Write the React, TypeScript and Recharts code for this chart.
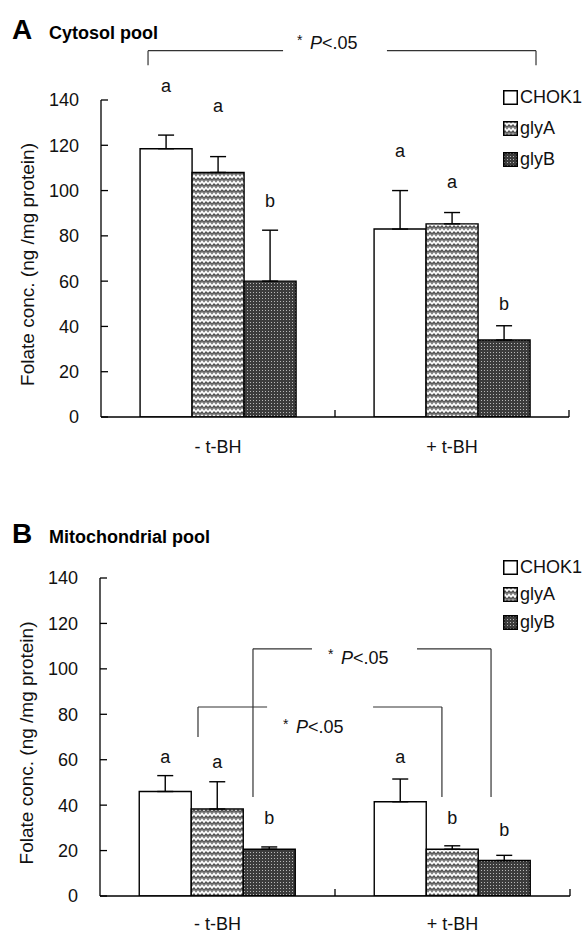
import React from 'react';
import { BarChart, LineChart, Bar, XAxis, YAxis, ErrorBar, LabelList, ReferenceLine, ReferenceDot } from 'recharts';

const FONT = '"Liberation Sans", Arial, Helvetica, sans-serif';

// categories and series
const groups = ['- t-BH', '+ t-BH'];
const seriesNames = ['CHOK1', 'glyA', 'glyB'];
const yTicks = [0, 20, 40, 60, 80, 100, 120, 140];

// A: cytosol pool
const cytoCHOK1 = [118.5, 83];
const cytoGlyA = [108, 85.3];
const cytoGlyB = [60, 34];
const cytoCHOK1Err = [6, 17];
const cytoGlyAErr = [7, 5];
const cytoGlyBErr = [22.5, 6.3];
const cytoCHOK1Letters = ['a', 'a'];
const cytoGlyALetters = ['a', 'a'];
const cytoGlyBLetters = ['b', 'b'];
const cytoCHOK1LetterAt = [146.6, 117.9];
const cytoGlyALetterAt = [137.7, 103.8];
const cytoGlyBLetterAt = [95.8, 50.3];

// B: mitochondrial pool
const mitoCHOK1 = [46, 41.5];
const mitoGlyA = [38.3, 20.6];
const mitoGlyB = [20.6, 15.6];
const mitoCHOK1Err = [7, 10];
const mitoGlyAErr = [12, 1.5];
const mitoGlyBErr = [1, 2.3];
const mitoCHOK1Letters = ['a', 'a'];
const mitoGlyALetters = ['a', 'b'];
const mitoGlyBLetters = ['b', 'b'];
const mitoCHOK1LetterAt = [61.2, 61.2];
const mitoGlyALetterAt = [59, 34.4];
const mitoGlyBLetterAt = [34.4, 29.1];

const fills = ['#ffffff', 'url(#patGlyA)', 'url(#patGlyB)'];

function buildData(vals: number[][], errs: number[][], letters: string[][]) {
  return groups.map((g, i) => {
    const row: any = { group: g };
    seriesNames.forEach((s, k) => {
      row[s] = vals[k][i];
      row[s + 'Err'] = [0, errs[k][i]];
      row[s + 'Letter'] = letters[k][i];
    });
    return row;
  });
}

const cytoData = buildData(
  [cytoCHOK1, cytoGlyA, cytoGlyB],
  [cytoCHOK1Err, cytoGlyAErr, cytoGlyBErr],
  [cytoCHOK1Letters, cytoGlyALetters, cytoGlyBLetters]
);
const mitoData = buildData(
  [mitoCHOK1, mitoGlyA, mitoGlyB],
  [mitoCHOK1Err, mitoGlyAErr, mitoGlyBErr],
  [mitoCHOK1Letters, mitoGlyALetters, mitoGlyBLetters]
);

const makeLetter = (levels: number[], values: number[]) => (props: any) => {
  const vb = props.viewBox && props.viewBox.width != null ? props.viewBox : props;
  const { x, y, width, height } = vb;
  const idx = props.index ?? 0;
  const v = values[idx];
  const base = y + height;
  const py = base - (levels[idx] * height) / v;
  return (
    <text x={x + width / 2} y={py} dy="0.36em" textAnchor="middle" fontSize={18} fontFamily={FONT} fill="#111">
      {props.value}
    </text>
  );
};

const YTick = (props: any) => {
  const { x, y, payload } = props;
  return (
    <g>
      <line x1={x} x2={x + 7} y1={y} y2={y} stroke="#000" strokeWidth={1.3} />
      <text x={x - 22} y={y} dy="0.36em" textAnchor="end" fontSize={18} fontFamily={FONT} fill="#111">
        {payload.value}
      </text>
    </g>
  );
};

const makeCatTick = (labelDy: number) => (props: any) => {
  const { x, y, payload } = props;
  return (
    <text x={x} y={y + labelDy} dy="0.36em" textAnchor="middle" fontSize={18} fontFamily={FONT} fill="#111">
      {payload.value}
    </text>
  );
};

const EdgeTick = (props: any) => {
  const { x, y } = props;
  return <line x1={x} x2={x} y1={y} y2={y - 7} stroke="#000" strokeWidth={1.3} />;
};

const yLabel = (dx: number) => (props: any) => {
  const vb = props.viewBox || {};
  const cx = vb.x + vb.width - dx;
  const cy = vb.y + vb.height / 2 + 6;
  return (
    <text
      x={cx}
      y={cy}
      transform={`rotate(-90 ${cx} ${cy})`}
      textAnchor="middle"
      dy="0.36em"
      fontSize={19}
      fontFamily={FONT}
      fill="#111"
    >
      Folate conc. (ng /mg protein)
    </text>
  );
};

const PText = (props: any) => {
  const { cx, cy } = props;
  return (
    <g>
      <text x={cx} y={cy - 3} dy="0.36em" fontSize={14} fontFamily={FONT} fill="#111">
        *
      </text>
      <text x={cx + 13} y={cy} dy="0.36em" fontSize={18} fontFamily={FONT} fill="#111">
        <tspan fontStyle="italic">P</tspan>
        {'<.05'}
      </text>
    </g>
  );
};

type Seg = [number, number, number, number];

// bracket geometry in data units (x: group position 0..2, y: folate value)
const cytoBracket: Seg[] = [
  [0.201, 161.8, 0.778, 161.8],
  [1.222, 161.8, 1.859, 161.8],
  [0.201, 161.8, 0.201, 155.4],
  [1.859, 161.8, 1.859, 155.4],
];
const cytoPAt = [{ x: 0.838, y: 165.2 }];

const mitoBracket: Seg[] = [
  [0.651, 108.8, 0.902, 108.8],
  [1.349, 108.8, 1.664, 108.8],
  [0.651, 108.8, 0.651, 43.6],
  [1.664, 108.8, 1.664, 43.6],
  [0.417, 83.2, 0.711, 83.2],
  [1.162, 83.2, 1.455, 83.2],
  [0.417, 83.2, 0.417, 70.0],
  [1.455, 83.2, 1.455, 43.6],
];
const mitoPAt = [
  { x: 0.97, y: 105.2 },
  { x: 0.779, y: 74.4 },
];

const groupPos = groups.map((g, i) => ({ pos: i + 0.5, group: g }));

interface PanelProps {
  data: any[];
  levels: number[][];
  values: number[][];
  bracket: Seg[];
  pAt: { x: number; y: number }[];
  height: number;
  margin: any;
  xAxisHeight: number;
  labelDy: number;
}

const Panel = ({ data, levels, values, bracket, pAt, height, margin, xAxisHeight, labelDy }: PanelProps) => (
  <div style={{ position: 'relative', width: 588, height }}>
    <div style={{ position: 'absolute', left: 0, top: 0 }}>
      <BarChart width={588} height={height} data={data} margin={margin} barCategoryGap="16.7%" barGap={0}>
        <XAxis
          dataKey="group"
          height={xAxisHeight}
          interval={0}
          tickLine={false}
          tickSize={0}
          tickMargin={0}
          axisLine={{ stroke: '#000', strokeWidth: 1.3 }}
          tick={makeCatTick(labelDy)}
        />
        <YAxis
          domain={[0, 140]}
          ticks={yTicks}
          allowDataOverflow
          interval={0}
          width={60}
          tickLine={false}
          tickSize={0}
          tickMargin={0}
          axisLine={{ stroke: '#000', strokeWidth: 1.3 }}
          tick={<YTick />}
          label={{ content: yLabel(74) }}
        />
        {seriesNames.map((s, k) => (
          <Bar
            key={s}
            dataKey={s}
            name={s}
            fill={fills[k]}
            stroke="#000"
            strokeWidth={1.4}
            isAnimationActive={false}
          >
            <ErrorBar dataKey={s + 'Err'} width={8} stroke="#000" strokeWidth={1.4} direction="y" />
            <LabelList dataKey={s + 'Letter'} content={makeLetter(levels[k], values[k])} />
          </Bar>
        ))}
      </BarChart>
    </div>
    <div style={{ position: 'absolute', left: 0, top: 0, pointerEvents: 'none' }}>
      <LineChart width={588} height={height} data={groupPos} margin={margin}>
        <XAxis
          dataKey="pos"
          type="number"
          domain={[0, 2]}
          ticks={[1, 2]}
          allowDataOverflow
          interval={0}
          height={xAxisHeight}
          axisLine={false}
          tickLine={false}
          tickSize={0}
          tickMargin={0}
          tick={<EdgeTick />}
        />
        <YAxis
          domain={[0, 140]}
          allowDataOverflow
          width={60}
          axisLine={false}
          tickLine={false}
          tick={false}
        />
        {bracket.map((s, i) => (
          <ReferenceLine
            key={'b' + i}
            segment={[
              { x: s[0], y: s[1] },
              { x: s[2], y: s[3] },
            ]}
            stroke="#333"
            strokeWidth={1.2}
            ifOverflow="visible"
          />
        ))}
        {pAt.map((p, i) => (
          <ReferenceDot key={'p' + i} x={p.x} y={p.y} r={0} ifOverflow="visible" shape={<PText />} />
        ))}
      </LineChart>
    </div>
  </div>
);

const Legend = ({ top, gap }: { top: number; gap: number }) => (
  <div style={{ position: 'absolute', left: 503, top, fontFamily: FONT, fontSize: 18, color: '#111' }}>
    {seriesNames.map((s, k) => (
      <div key={s} style={{ position: 'absolute', left: 0, top: k * gap - 11, height: 22, display: 'flex', alignItems: 'center', whiteSpace: 'nowrap' }}>
        <svg width={15} height={15} style={{ marginRight: 2 }}>
          <rect x={0.75} y={0.75} width={13.5} height={13.5} fill={fills[k]} stroke="#000" strokeWidth={1.5} />
        </svg>
        <span>{s}</span>
      </div>
    ))}
  </div>
);

const Title = ({ letter, text, top }: { letter: string; text: string; top: number }) => (
  <div style={{ position: 'absolute', left: 12, top, fontFamily: FONT, fontWeight: 'bold', color: '#000', whiteSpace: 'nowrap', display: 'flex', alignItems: 'baseline' }}>
    <span style={{ fontSize: 28, width: 37 }}>{letter}</span>
    <span style={{ fontSize: 18 }}>{text}</span>
  </div>
);

export default function App() {
  return (
    <div style={{ position: 'absolute', left: 0, top: 0, width: 588, height: 934, background: '#fff', overflow: 'hidden' }}>
      <svg width={0} height={0} style={{ position: 'absolute' }}>
        <defs>
          <pattern id="patGlyA" patternUnits="userSpaceOnUse" width={8} height={6}>
            <rect width={8} height={6} fill="#7c7c7c" />
            <polyline points="0,4 2,1.5 4,4 6,1.5 8,4" fill="none" stroke="#ffffff" strokeWidth={1.5} />
            <polyline points="0,6.5 2,4 4,6.5 6,4 8,6.5" fill="none" stroke="#3e3e3e" strokeWidth={0.8} />
          </pattern>
          <pattern id="patGlyB" patternUnits="userSpaceOnUse" width={3} height={3}>
            <rect width={3} height={3} fill="#3c3c3c" />
            <rect x={1} y={1} width={1} height={1} fill="#b8b8b8" />
          </pattern>
        </defs>
      </svg>

      <Title letter="A" text="Cytosol pool" top={14} />
      <div style={{ position: 'absolute', left: 0, top: 0 }}>
        <Panel
          data={cytoData}
          levels={[cytoCHOK1LetterAt, cytoGlyALetterAt, cytoGlyBLetterAt]}
          values={[cytoCHOK1, cytoGlyA, cytoGlyB]}
          bracket={cytoBracket}
          pAt={cytoPAt}
          height={470}
          margin={{ top: 100, right: 19, bottom: 13, left: 41 }}
          xAxisHeight={40}
          labelDy={30}
        />
      </div>
      <Legend top={97} gap={31} />

      <Title letter="B" text="Mitochondrial pool" top={518} />
      <div style={{ position: 'absolute', left: 0, top: 470 }}>
        <Panel
          data={mitoData}
          levels={[mitoCHOK1LetterAt, mitoGlyALetterAt, mitoGlyBLetterAt]}
          values={[mitoCHOK1, mitoGlyA, mitoGlyB]}
          bracket={mitoBracket}
          pAt={mitoPAt}
          height={464}
          margin={{ top: 108, right: 18, bottom: 0, left: 40 }}
          xAxisHeight={38}
          labelDy={28}
        />
      </div>
      <Legend top={567} gap={27.5} />
    </div>
  );
}
